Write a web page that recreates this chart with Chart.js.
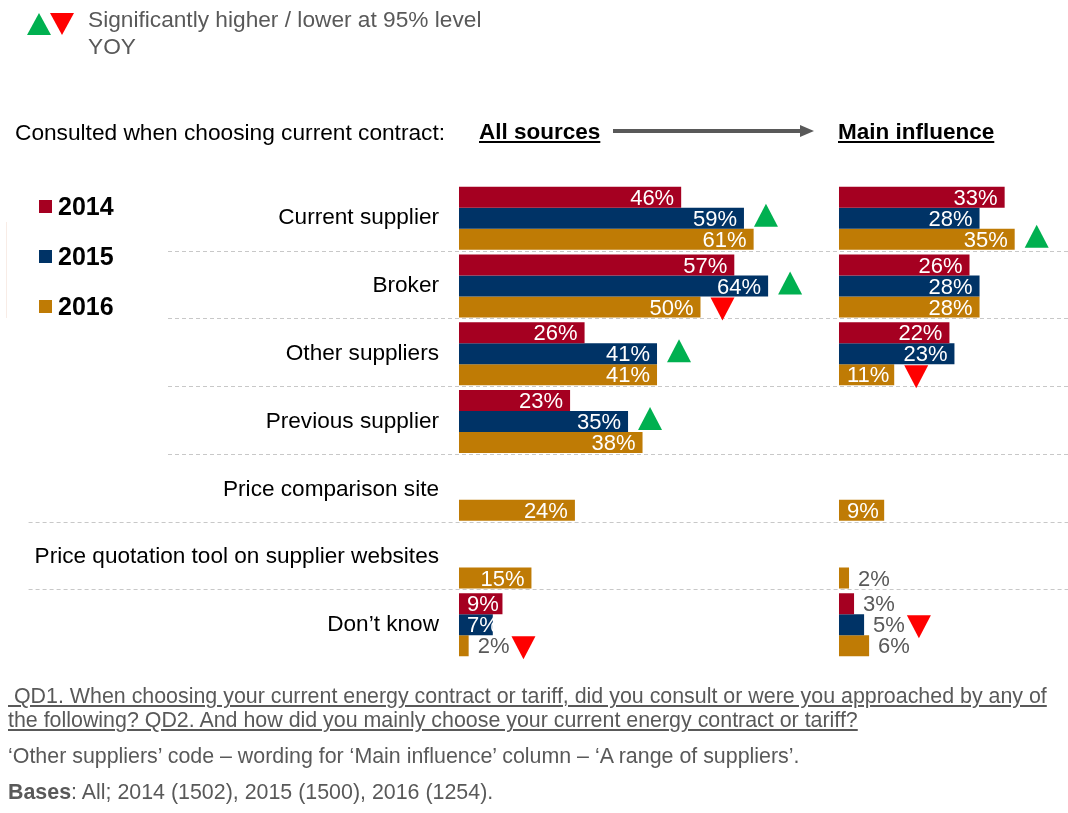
<!DOCTYPE html>
<html><head><meta charset="utf-8">
<script src="https://cdn.jsdelivr.net/npm/chart.js@4.4.1/dist/chart.umd.min.js"></script>
<style>
html,body{margin:0;padding:0;width:1068px;height:813px;overflow:hidden;background:#fff;font-family:"Liberation Sans",Arial,sans-serif;}
#wrap{position:absolute;left:0;top:0;width:1068px;height:813px;}
.t{position:absolute;white-space:pre;line-height:1;}
.ul{text-decoration:underline;text-decoration-thickness:2px;text-underline-offset:2px;}
.sq{position:absolute;width:13px;height:13px;}
</style></head><body>
<div id="wrap"><canvas id="c"></canvas></div>

<svg style="position:absolute;left:0;top:0" width="90" height="50">
  <polygon points="27,35 51,35 39,13" fill="#00B050"/>
  <polygon points="50,13 74,13 62,35" fill="#FF0000"/>
</svg>
<div class="t" style="left:88px;top:7.5px;font-size:22.7px;color:#595959">Significantly higher / lower at 95% level</div>
<div class="t" style="left:88px;top:34.5px;font-size:22.7px;color:#595959">YOY</div>

<div class="t" style="left:15px;top:121px;font-size:22.7px;color:#000">Consulted when choosing current contract:</div>
<div class="t ul" style="left:479px;top:121px;font-size:22.5px;font-weight:bold;color:#000">All sources</div>
<svg style="position:absolute;left:600px;top:120px" width="230" height="24">
  <line x1="13" y1="11" x2="202" y2="11" stroke="#595959" stroke-width="4"/>
  <polygon points="200,5 214,11 200,17" fill="#595959"/>
</svg>
<div class="t ul" style="left:838px;top:121px;font-size:22.5px;font-weight:bold;color:#000">Main influence</div>

<div style="position:absolute;left:6px;top:222px;width:1px;height:96px;background:#f8ece6"></div>
<div id="legend"></div>

<div class="t ul" style="left:8px;top:685.9px;font-size:21.4px;color:#595959"> QD1. When choosing your current energy contract or tariff, did you consult or were you approached by any of</div>
<div class="t ul" style="left:8px;top:709.9px;font-size:21.4px;color:#595959">the following? QD2. And how did you mainly choose your current energy contract or tariff?</div>
<div class="t" style="left:8px;top:745.9px;font-size:21.4px;color:#595959">‘Other suppliers’ code – wording for ‘Main influence’ column – ‘A range of suppliers’.</div>
<div class="t" style="left:8px;top:781.9px;font-size:21.4px;color:#595959"><b>Bases</b>: All; 2014 (1502), 2015 (1500), 2016 (1254).</div>

<script>
// ---- data ----
const categories = ['Current supplier', 'Broker', 'Other suppliers', 'Previous supplier',
  'Price comparison site', 'Price quotation tool on supplier websites', 'Don’t know'];
const years = ['2014', '2015', '2016'];
const yearColors = ['#A50021', '#003366', '#BF7B05'];

const allSources2014 = [46, 57, 26, 23, null, null, 9];
const allSources2015 = [59, 64, 41, 35, null, null, 7];
const allSources2016 = [61, 50, 41, 38, 24, 15, 2];

const mainInfluence2014 = [33, 26, 22, null, null, null, 3];
const mainInfluence2015 = [28, 28, 23, null, null, null, 5];
const mainInfluence2016 = [35, 28, 11, null, 9, 2, 6];

// significance YOY: 'up' / 'down' / null
const sigAll2014 = [null, null, null, null, null, null, null];
const sigAll2015 = ['up', 'up', 'up', 'up', null, null, null];
const sigAll2016 = [null, 'down', null, null, null, null, 'down'];
const sigMain2014 = [null, null, null, null, null, null, null];
const sigMain2015 = [null, null, null, null, null, null, 'down'];
const sigMain2016 = ['up', null, 'down', null, null, null, null];

// ---- html legend ----
const legendEl = document.getElementById('legend');
years.forEach((yr, k) => {
  const sq = document.createElement('div');
  sq.className = 'sq';
  sq.style.left = '39px'; sq.style.top = (200 + 50 * k) + 'px';
  sq.style.background = yearColors[k];
  legendEl.appendChild(sq);
  const tx = document.createElement('div');
  tx.className = 't';
  tx.style.cssText = 'left:58px;top:' + (193.8 + 50 * k) + 'px;font-size:25px;font-weight:bold;color:#000';
  tx.textContent = yr;
  legendEl.appendChild(tx);
});

// ---- chart ----
const FONT = '"Liberation Sans", Arial, sans-serif';
const TICK_SIZE = 22.6;
const LABEL_SIZE = 22;

const allSeries = [allSources2014, allSources2015, allSources2016];
const mainSeries = [mainInfluence2014, mainInfluence2015, mainInfluence2016];
const allSig = [sigAll2014, sigAll2015, sigAll2016];
const mainSig = [sigMain2014, sigMain2015, sigMain2016];

const datasets = [];
years.forEach((yr, k) => {
  datasets.push({label: yr + ' All sources', data: allSeries[k], sig: allSig[k],
    backgroundColor: yearColors[k], stack: 's' + yr, xAxisID: 'xAll'});
});
years.forEach((yr, k) => {
  datasets.push({label: yr + ' Main influence', data: mainSeries[k], sig: mainSig[k],
    backgroundColor: yearColors[k], stack: 's' + yr, xAxisID: 'xMain'});
});

function triangle(ctx, left, cy, dir) {
  const w = 24, h = 23;
  ctx.beginPath();
  if (dir === 'up') {
    ctx.moveTo(left, cy + h / 2); ctx.lineTo(left + w, cy + h / 2); ctx.lineTo(left + w / 2, cy - h / 2);
  } else {
    ctx.moveTo(left, cy - h / 2); ctx.lineTo(left + w, cy - h / 2); ctx.lineTo(left + w / 2, cy + h / 2);
  }
  ctx.closePath();
  ctx.fillStyle = dir === 'up' ? '#00B050' : '#FF0000';
  ctx.fill();
}

const decor = {
  id: 'decor',
  beforeDatasetsDraw(chart) {
    const ctx = chart.ctx, ys = chart.scales.y;
    ctx.save();
    ctx.font = TICK_SIZE + 'px ' + FONT;
    ctx.strokeStyle = '#c8c8c8';
    ctx.lineWidth = 1;
    ctx.setLineDash([4, 3]);
    for (let i = 0; i < categories.length - 1; i++) {
      const yb = Math.round((ys.getPixelForValue(i) + ys.getPixelForValue(i + 1)) / 2 - 1.5) + 0.5;
      const wMax = Math.max(ctx.measureText(categories[i]).width, ctx.measureText(categories[i + 1]).width);
      const labelLeft = ys.right - ys.options.ticks.padding - wMax;
      const xs = Math.min(168, labelLeft - 6);
      ctx.beginPath(); ctx.moveTo(xs, yb); ctx.lineTo(chart.width, yb); ctx.stroke();
    }
    ctx.restore();
  },
  afterDatasetsDraw(chart) {
    const ctx = chart.ctx;
    ctx.save();
    ctx.font = LABEL_SIZE + 'px ' + FONT;
    ctx.textBaseline = 'middle';
    chart.data.datasets.forEach((ds, d) => {
      const meta = chart.getDatasetMeta(d);
      meta.data.forEach((el, i) => {
        const v = ds.data[i];
        if (v === null || v === undefined) return;
        const txt = v + '%';
        const tw = ctx.measureText(txt).width;
        const barW = el.x - el.base;
        let markLeft;
        if (barW >= 32) {
          let right = el.x - 7;
          if (right - tw < el.base + 8) right = el.base + 8 + tw;
          ctx.fillStyle = '#ffffff';
          ctx.textAlign = 'right';
          ctx.fillText(txt, right, el.y + 1.5);
          markLeft = Math.max(el.x, right) + 10;
        } else {
          ctx.fillStyle = '#595959';
          ctx.textAlign = 'left';
          ctx.fillText(txt, el.x + 9, el.y + 1.5);
          markLeft = el.x + 9 + tw + 2;
        }
        const s = ds.sig && ds.sig[i];
        if (s) triangle(ctx, markLeft, el.y + (s === 'up' ? -3 : 2), s);
      });
    });
    ctx.restore();
  }
};

new Chart(document.getElementById('c'), {
  type: 'bar',
  data: {labels: categories, datasets: datasets},
  plugins: [decor],
  options: {
    indexAxis: 'y',
    responsive: true,
    maintainAspectRatio: false,
    animation: false,
    categoryPercentage: 0.93,
    barPercentage: 1.0,
    layout: {padding: {top: 184.3, bottom: 154.3, left: 0, right: 0}},
    plugins: {legend: {display: false}, tooltip: {enabled: false}},
    scales: {
      y: {
        type: 'category',
        position: 'left',
        afterFit: (s) => { s.width = 449; },
        grid: {display: false, drawTicks: false},
        border: {display: false},
        ticks: {color: '#000', padding: 10, font: {family: FONT, size: TICK_SIZE}, autoSkip: false}
      },
      xAll: {type: 'linear', position: 'bottom', display: false, min: -2.07, max: 126.09},
      xMain: {type: 'linear', position: 'bottom', display: false, min: -77.69, max: 45.62}
    }
  }
});
</script>
</body></html>
